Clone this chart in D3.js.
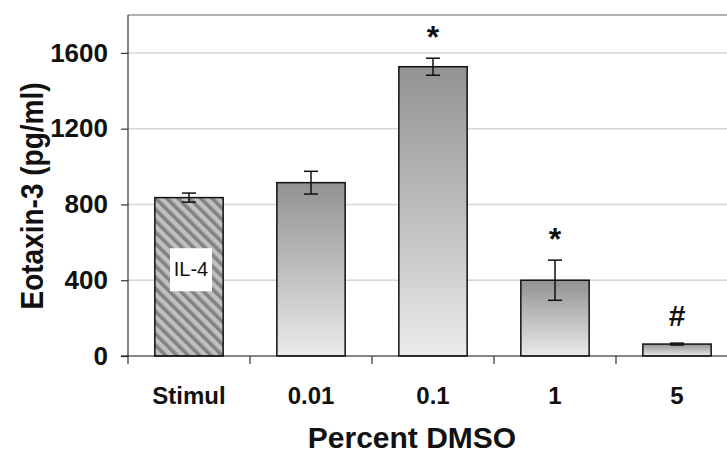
<!DOCTYPE html>
<html>
<head>
<meta charset="utf-8">
<script src="https://cdn.jsdelivr.net/npm/d3@7"></script>
<style>
  body { margin: 0; background: #fff; }
  svg { display: block; font-family: Arial, "Liberation Sans", sans-serif; }
</style>
</head>
<body>
<div id="chart"></div>
<script>
// Chart data
const categories = ["Stimul", "0.01", "0.1", "1", "5"];
const values = [836, 915, 1527, 400, 63];
const errors = [24, 60, 45, 106, 5];
const marks = ["", "", "*", "*", "#"];
const yTicks = [0, 400, 800, 1200, 1600];

const width = 727, height = 456;
const margin = { left: 128, top: 15, right: -11, bottom: 100 };
const FONT = "Arial, 'Liberation Sans', sans-serif";

const svg = d3.select("#chart").append("svg")
    .attr("width", width)
    .attr("height", height);

const defs = svg.append("defs");

// Grey gradient used on the DMSO bars
const grad = defs.append("linearGradient")
    .attr("id", "barGrad")
    .attr("x1", 0).attr("y1", 0).attr("x2", 0).attr("y2", 1);
grad.append("stop").attr("offset", "0%").attr("stop-color", "#929292");
grad.append("stop").attr("offset", "100%").attr("stop-color", "#eaeaea");

// Diagonal hatch for the stimulated control
const hatch = defs.append("pattern")
    .attr("id", "hatch")
    .attr("patternUnits", "userSpaceOnUse")
    .attr("width", 8)
    .attr("height", 8)
    .attr("patternTransform", "rotate(-45)");
hatch.append("rect").attr("width", 8).attr("height", 8).attr("fill", "#c0c0c0");
hatch.append("rect").attr("width", 3.6).attr("height", 8).attr("fill", "#828282");

const x = d3.scaleBand()
    .domain(categories)
    .range([margin.left, width - margin.right])
    .paddingInner(0.44)
    .paddingOuter(0.22);

const y = d3.scaleLinear()
    .domain([0, 1800])
    .range([height - margin.bottom, margin.top]);

const x0 = margin.left;
const x1 = width - margin.right;

// Gridlines
svg.append("g")
    .selectAll("line")
    .data(yTicks.slice(1))
    .join("line")
    .attr("x1", x0).attr("x2", x1)
    .attr("y1", d => y(d)).attr("y2", d => y(d))
    .attr("stroke", "#d6d6d6")
    .attr("stroke-width", 1.5);

// Top border of plot area
svg.append("line")
    .attr("x1", x0).attr("x2", x1)
    .attr("y1", y(1800)).attr("y2", y(1800))
    .attr("stroke", "#999")
    .attr("stroke-width", 1.6);

// Bars
svg.append("g")
    .selectAll("rect")
    .data(categories)
    .join("rect")
    .attr("x", d => x(d))
    .attr("y", (d, i) => y(values[i]))
    .attr("width", x.bandwidth())
    .attr("height", (d, i) => y(0) - y(values[i]))
    .attr("fill", (d, i) => i === 0 ? "url(#hatch)" : "url(#barGrad)")
    .attr("stroke", "#111")
    .attr("stroke-width", 1.5);

// IL-4 label box inside the first bar
const cx0 = x(categories[0]) + x.bandwidth() / 2;
svg.append("rect")
    .attr("x", cx0 - 19)
    .attr("y", y(400) - 32)
    .attr("width", 42)
    .attr("height", 43)
    .attr("fill", "#fff");
svg.append("text")
    .attr("x", cx0 + 2)
    .attr("y", y(400) - 4)
    .attr("text-anchor", "middle")
    .attr("font-size", 20)
    .attr("fill", "#111")
    .text("IL-4");

// Error bars
const eb = svg.append("g")
    .attr("stroke", "#111")
    .attr("stroke-width", 1.5);
categories.forEach((c, i) => {
    const cx = x(c) + x.bandwidth() / 2;
    const top = y(values[i] + errors[i]);
    const bot = y(values[i] - errors[i]);
    eb.append("line").attr("x1", cx).attr("x2", cx).attr("y1", top).attr("y2", bot);
    eb.append("line").attr("x1", cx - 7).attr("x2", cx + 7).attr("y1", top).attr("y2", top);
    eb.append("line").attr("x1", cx - 7).attr("x2", cx + 7).attr("y1", bot).attr("y2", bot);
});

// Significance marks (centred ~28px above the error bar top)
svg.append("g")
    .selectAll("text")
    .data(categories)
    .join("text")
    .attr("x", d => x(d) + x.bandwidth() / 2)
    .attr("y", (d, i) => y(values[i] + errors[i]) - 28 + (marks[i] === "*" ? 18 : 11))
    .attr("text-anchor", "middle")
    .attr("font-size", (d, i) => marks[i] === "*" ? 32 : 30)
    .attr("font-weight", "bold")
    .attr("fill", "#111")
    .text((d, i) => marks[i]);

// Y axis
const yAxis = svg.append("g")
    .attr("transform", `translate(${x0},0)`)
    .call(d3.axisLeft(y).tickValues(yTicks).tickFormat(d3.format("d")).tickSize(7).tickPadding(13));
yAxis.select(".domain").remove();
yAxis.selectAll(".tick line").attr("stroke", "#333").attr("stroke-width", 1.2);
yAxis.selectAll("text")
    .attr("font-size", 26)
    .attr("font-weight", "bold")
    .attr("fill", "#111")
    .attr("font-family", FONT);
svg.append("line")
    .attr("x1", x0).attr("x2", x0)
    .attr("y1", y(1800)).attr("y2", y(0) + 8)
    .attr("stroke", "#333").attr("stroke-width", 1.2);

// X axis
const xAxis = svg.append("g")
    .attr("transform", `translate(0,${y(0)})`)
    .call(d3.axisBottom(x).tickSize(0).tickPadding(0));
xAxis.select(".domain").remove();
xAxis.selectAll("text")
    .attr("y", 48)
    .attr("dy", 0)
    .attr("font-size", 24)
    .attr("font-weight", "bold")
    .attr("fill", "#111")
    .attr("font-family", FONT);
svg.append("line")
    .attr("x1", x0 - 7).attr("x2", x1)
    .attr("y1", y(0)).attr("y2", y(0))
    .attr("stroke", "#111").attr("stroke-width", 1.2);
// Category separator ticks
const step = x.step();
svg.append("g")
    .selectAll("line")
    .data(categories.slice(1))
    .join("line")
    .attr("x1", d => x(d) - x.paddingInner() * step / 2)
    .attr("x2", d => x(d) - x.paddingInner() * step / 2)
    .attr("y1", y(0)).attr("y2", y(0) + 8)
    .attr("stroke", "#333").attr("stroke-width", 1.2);

// Axis titles
svg.append("text")
    .attr("transform", `translate(43,196) rotate(-90) scale(1,1.15)`)
    .attr("text-anchor", "middle")
    .attr("font-size", 28)
    .attr("font-weight", "bold")
    .attr("fill", "#111")
    .text("Eotaxin-3 (pg/ml)");

svg.append("text")
    .attr("x", 412)
    .attr("y", 448)
    .attr("text-anchor", "middle")
    .attr("font-size", 30)
    .attr("font-weight", "bold")
    .attr("fill", "#111")
    .text("Percent DMSO");
</script>
</body>
</html>
